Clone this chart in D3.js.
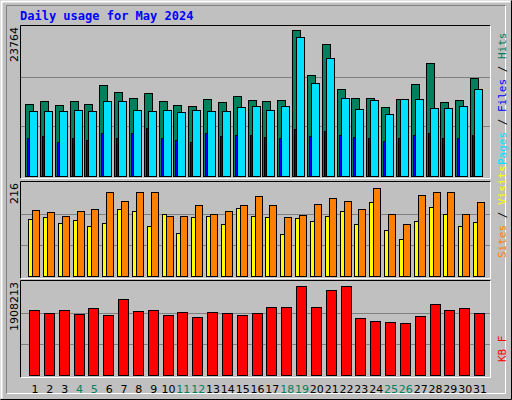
<!DOCTYPE html>
<html><head><meta charset="utf-8">
<script src="https://cdn.jsdelivr.net/npm/d3@7"></script>
<style>body{margin:0;background:#fff}</style>
</head><body>
<svg id="chart" width="512" height="400"></svg>
<script>
var days = d3.range(1, 32);
var weekends = [4, 5, 11, 12, 18, 19, 25, 26];
var hits = [11490,11962,11333,11962,11490,14481,13379,12435,13222,11962,11333,11175,12277,11805,12749,12120,11962,12120,23295,16055,21092,13851,12435,12435,11018,12277,14638,17944,11805,12120,15583];
var files = [10388,10388,10388,10546,10388,11962,11962,10546,10388,10546,10231,10546,10388,10388,11018,11175,10546,11175,22193,14796,18888,12435,10703,12120,9916,12277,12277,10861,10861,11175,13851];
var pages = [6000,6300,5500,6100,5700,6900,6000,6800,7700,6100,5700,5500,6800,6300,6500,6500,6200,6000,7500,6400,7200,6600,6200,6000,5600,6000,6500,6900,6100,6000,6600];
var visits = [154,148,139,150,156,196,174,196,196,139,139,165,143,152,165,185,165,137,141,168,181,174,156,205,143,121,187,194,196,145,172];
var sites = [132,137,123,130,117,123,156,152,115,143,101,137,139,121,159,139,137,97,134,128,139,150,121,172,106,86,128,161,145,117,126];
var kbytes = [1331759,1272128,1331759,1252251,1371513,1232374,1550406,1311882,1331759,1232374,1292005,1192620,1292005,1272128,1232374,1272128,1391390,1391390,1828684,1391390,1749176,1828684,1172743,1113112,1093235,1073358,1212497,1451021,1331759,1371513,1272128];
var maxHits = 23764, maxVisits = 216, maxKB = 1908213;

var svg = d3.select("#chart");
svg.append("rect").attr("x",0).attr("y",0).attr("width",512).attr("height",400).attr("fill","#c0c0c0");
// outer frame
svg.append("path").attr("d","M1.5,398.5V1.5H510.5").attr("stroke","#fff").attr("fill","none").attr("stroke-width",2);
svg.append("path").attr("d","M0.5,399.5H511.5V0.5").attr("stroke","#000").attr("fill","none");
svg.append("path").attr("d","M6.5,393.5H505.5V5.5").attr("stroke","#fff").attr("fill","none");
svg.append("path").attr("d","M6.5,393.5V5.5H505.5").attr("stroke","#808080").attr("fill","none");

svg.append("text").attr("x",20).attr("y",20)
  .attr("font-family","DejaVu Sans Mono").attr("font-weight","bold").attr("font-size",12)
  .attr("fill","#0000ff").text("Daily usage for May 2024");

var x = d3.scaleLinear().domain([1, 31]).range([35, 480]);

function panel(top, bottom, max, label) {
  var y = d3.scaleLinear().domain([0, max]).range([bottom, top + 2]);
  var g = svg.append("g");
  g.append("rect").attr("x",20.5).attr("y",top+0.5).attr("width",470).attr("height",bottom-top+2).attr("fill","#c0c0c0");
  [1/3, 2/3].forEach(function(f) {
    var yy = Math.round(y(max * f)) + 0.5;
    g.append("line").attr("x1",21).attr("x2",490).attr("y1",yy).attr("y2",yy).attr("stroke","#808080");
  });
  g.append("path").attr("d","M20.5,"+(bottom+2.5)+"V"+(top+0.5)+"H490.5").attr("stroke","#000").attr("fill","none");
  g.append("path").attr("d","M20.5,"+(bottom+2.5)+"H490.5V"+(top+0.5)).attr("stroke","#fff").attr("fill","none");
  g.append("text").attr("transform","translate(18,"+(top+2)+") rotate(-90)")
    .attr("text-anchor","end").attr("font-family","DejaVu Sans").attr("font-size",11).text(label);
  return {g: g, y: y};
}

function bars(p, data, dx, w, color) {
  p.g.selectAll(null).data(data).enter().append("rect")
    .attr("x", function(d, i) { return Math.round(x(i + 1)) + dx + 0.5; })
    .attr("y", function(d) { return Math.round(p.y(d)) + 0.5; })
    .attr("width", w)
    .attr("height", function(d) { return p.y(0) - Math.round(p.y(d)); })
    .attr("fill", color).attr("stroke","#000");
}

var p1 = panel(25, 176, maxHits, "23764");
bars(p1, hits, -10, 8, "#00805c");
bars(p1, files, -6, 8, "#00e0ff");
bars(p1, pages, -8, 2, "#0000ff");

var p2 = panel(181, 276, maxVisits, "216");
bars(p2, sites, -7, 4, "#ffff00");
bars(p2, visits, -3, 7, "#ff8000");

var p3 = panel(280, 375, maxKB, "1908213");
bars(p3, kbytes, -6, 10, "#ff0000");

function sideLabel(yBottom, parts) {
  var t = svg.append("text").attr("transform","translate(506,"+yBottom+") rotate(-90)")
    .attr("font-family","DejaVu Sans Mono").attr("font-size",11);
  parts.forEach(function(p) { t.append("tspan").attr("fill", p[1]).text(p[0]); });
}
sideLabel(165, [["Pages","#00e0ff"],[" / ","#000"],["Files","#0000ff"],[" / ","#000"],["Hits","#00805c"]]);
sideLabel(258, [["Sites","#ff8000"],[" / ","#000"],["Visits","#ffff00"]]);
sideLabel(362, [["KB F","#ff0000"]]);

svg.selectAll(".day").data(days).enter().append("text")
  .attr("x", function(d) { return x(d); }).attr("y", 393)
  .attr("text-anchor","middle").attr("font-family","DejaVu Sans").attr("font-size",11)
  .attr("fill", function(d) { return weekends.indexOf(d) >= 0 ? "#00805c" : "#000"; })
  .text(function(d) { return d; });
</script>
</body></html>
